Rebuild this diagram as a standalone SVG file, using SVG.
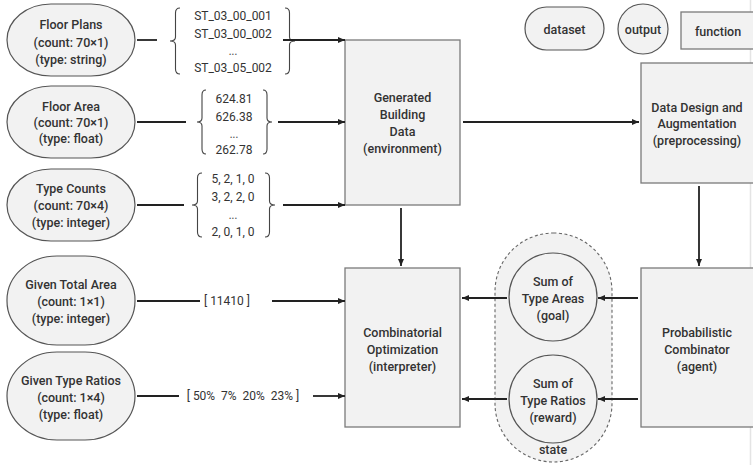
<svg xmlns="http://www.w3.org/2000/svg" width="753" height="465" viewBox="0 0 753 465">
<defs>
<marker id="ah" markerWidth="8" markerHeight="6" refX="7" refY="3" orient="auto" markerUnits="userSpaceOnUse">
<path d="M0,0 L7,3 L0,6 z" fill="#222"/>
</marker>
<style>
.ds{fill:#f2f2f2;stroke:#555;stroke-width:1.2}
.fn{fill:#f2f2f2;stroke:#7a7a7a;stroke-width:1.3}
.st{fill:#f2f2f2;stroke:#666;stroke-width:1.1;stroke-dasharray:3 2.5}
.t{font-family:Roboto,"Noto Sans",sans-serif;font-size:12.5px;font-weight:500;fill:#333;text-anchor:middle;dominant-baseline:central}
.v{font-family:Roboto,"Noto Sans",sans-serif;font-size:12px;fill:#333;text-anchor:middle;dominant-baseline:central}
.dots{font-family:Roboto,"Noto Sans",sans-serif;font-size:10px;font-weight:500;fill:#555;text-anchor:middle;dominant-baseline:central}
.c{stroke:#222;stroke-width:1.8;fill:none}
.a{stroke:#222;stroke-width:1.8;fill:none;marker-end:url(#ah)}
.br{stroke:#444;stroke-width:1.1;fill:none}
</style>
</defs>
<rect x="0" y="0" width="753" height="465" fill="#ffffff"/>
<line x1="750.5" y1="0" x2="750.5" y2="465" stroke="#e4e4e4" stroke-width="1.5"/>

<g id="legend-dataset">
<rect class="ds" x="525" y="7" width="79" height="43" rx="21.5" ry="21.5"/>
<text class="t" x="564.5" y="29">dataset</text>
</g>
<g id="legend-output">
<circle class="ds" cx="643" cy="29" r="25"/>
<text class="t" x="643" y="29">output</text>
</g>
<g id="legend-function">
<rect class="fn" x="681" y="12" width="90" height="37"/>
<text class="t" x="718" y="31">function</text>
</g>

<g id="state">
<rect class="st" x="495" y="233" width="117" height="229" rx="58.5" ry="58.5"/>
<text class="t" x="553" y="449">state</text>
</g>

<g id="floor-plans">
<rect class="ds" x="7" y="4" width="128" height="72" rx="44" ry="36"/>
<text class="t" x="71" y="24">Floor Plans</text>
<text class="t" x="71" y="42">(count: 70×1)</text>
<text class="t" x="71" y="59">(type: string)</text>
</g>
<g id="floor-area">
<rect class="ds" x="7" y="86" width="128" height="72" rx="44" ry="36"/>
<text class="t" x="71" y="106">Floor Area</text>
<text class="t" x="71" y="122">(count: 70×1)</text>
<text class="t" x="71" y="138">(type: float)</text>
</g>
<g id="type-counts">
<rect class="ds" x="7" y="169" width="128" height="72" rx="44" ry="36"/>
<text class="t" x="71" y="188">Type Counts</text>
<text class="t" x="71" y="205">(count: 70×4)</text>
<text class="t" x="71" y="222">(type: integer)</text>
</g>
<g id="given-total-area">
<rect class="ds" x="7" y="256" width="128" height="89" rx="50" ry="44"/>
<text class="t" x="71" y="284">Given Total Area</text>
<text class="t" x="71" y="301">(count: 1×1)</text>
<text class="t" x="71" y="318">(type: integer)</text>
</g>
<g id="given-type-ratios">
<rect class="ds" x="7" y="352" width="128" height="88" rx="50" ry="44"/>
<text class="t" x="71" y="380">Given Type Ratios</text>
<text class="t" x="71" y="397">(count: 1×4)</text>
<text class="t" x="71" y="414">(type: float)</text>
</g>

<g id="floor-plans-values">
<path class="br" d="M180,8 Q175.5,8 175.5,13 L175.5,37 Q175.5,41 170,41 Q175.5,41 175.5,45 L175.5,69 Q175.5,74 180,74"/>
<path class="br" d="M285,8 Q289.5,8 289.5,13 L289.5,37 Q289.5,41 295,41 Q289.5,41 289.5,45 L289.5,69 Q289.5,74 285,74"/>
<text class="v" x="233" y="16">ST_03_00_001</text>
<text class="v" x="233" y="34">ST_03_00_002</text>
<text class="dots" x="233" y="51">...</text>
<text class="v" x="233" y="68">ST_03_05_002</text>
</g>
<g id="floor-area-values">
<path class="br" d="M206,90 Q202,90 202,95 L202,118 Q202,122 197,122 Q202,122 202,126 L202,149 Q202,154 206,154"/>
<path class="br" d="M263,90 Q267,90 267,95 L267,118 Q267,122 272,122 Q267,122 267,126 L267,149 Q267,154 263,154"/>
<text class="v" x="234" y="99">624.81</text>
<text class="v" x="234" y="117">626.38</text>
<text class="dots" x="234" y="134">...</text>
<text class="v" x="234" y="150">262.78</text>
</g>
<g id="type-counts-values">
<path class="br" d="M202,173 Q197.5,173 197.5,178 L197.5,201 Q197.5,205 192,205 Q197.5,205 197.5,209 L197.5,232 Q197.5,237 202,237"/>
<path class="br" d="M265,173 Q269.5,173 269.5,178 L269.5,201 Q269.5,205 275,205 Q269.5,205 269.5,209 L269.5,232 Q269.5,237 265,237"/>
<text class="v" x="233" y="179">5, 2, 1, 0</text>
<text class="v" x="233" y="197">3, 2, 2, 0</text>
<text class="dots" x="233" y="215">...</text>
<text class="v" x="233" y="232">2, 0, 1, 0</text>
</g>
<g id="given-total-area-value">
<text class="v" x="227" y="301">[ 11410 ]</text>
</g>
<g id="given-type-ratios-value">
<text class="v" x="243" y="396" xml:space="preserve">[ 50%  7%  20%  23% ]</text>
</g>

<g id="generated-building-data">
<rect class="fn" x="345" y="40" width="115" height="165"/>
<text class="t" x="402.5" y="97">Generated</text>
<text class="t" x="402.5" y="114">Building</text>
<text class="t" x="402.5" y="131">Data</text>
<text class="t" x="402.5" y="148">(environment)</text>
</g>
<g id="combinatorial-optimization">
<rect class="fn" x="345" y="268" width="115" height="159"/>
<text class="t" x="402.5" y="332">Combinatorial</text>
<text class="t" x="402.5" y="349">Optimization</text>
<text class="t" x="402.5" y="366">(interpreter)</text>
</g>
<g id="data-design">
<rect class="fn" x="641" y="63" width="130" height="120"/>
<text class="t" x="697" y="107">Data Design and</text>
<text class="t" x="697" y="123">Augmentation</text>
<text class="t" x="697" y="140">(preprocessing)</text>
</g>
<g id="probabilistic-combinator">
<rect class="fn" x="641" y="268" width="130" height="159"/>
<text class="t" x="697" y="332">Probabilistic</text>
<text class="t" x="697" y="349">Combinator</text>
<text class="t" x="697" y="366">(agent)</text>
</g>
<g id="sum-type-areas">
<circle class="ds" cx="553" cy="297" r="44"/>
<text class="t" x="553" y="281">Sum of</text>
<text class="t" x="553" y="298">Type Areas</text>
<text class="t" x="553" y="315">(goal)</text>
</g>
<g id="sum-type-ratios">
<circle class="ds" cx="553" cy="399" r="44"/>
<text class="t" x="553" y="383">Sum of</text>
<text class="t" x="553" y="400">Type Ratios</text>
<text class="t" x="553" y="417">(reward)</text>
</g>

<g id="connectors">
<line class="c" x1="137" y1="40" x2="157" y2="40"/>
<line class="a" x1="283" y1="40" x2="345" y2="40"/>
<line class="c" x1="137" y1="122" x2="186" y2="122"/>
<line class="a" x1="278" y1="122" x2="345" y2="122"/>
<line class="c" x1="137" y1="205" x2="184" y2="205"/>
<line class="a" x1="283" y1="205" x2="345" y2="205"/>
<line class="c" x1="137" y1="301" x2="200" y2="301"/>
<line class="a" x1="272" y1="301" x2="345" y2="301"/>
<line class="c" x1="137" y1="396" x2="179" y2="396"/>
<line class="a" x1="313" y1="396" x2="345" y2="396"/>
<line class="a" x1="401" y1="208" x2="401" y2="266"/>
<line class="a" x1="463" y1="122" x2="639" y2="122"/>
<line class="a" x1="699" y1="186" x2="699" y2="266"/>
<line class="a" x1="638" y1="298" x2="598" y2="298"/>
<line class="a" x1="507" y1="298" x2="462" y2="298"/>
<line class="a" x1="638" y1="399" x2="598" y2="399"/>
<line class="a" x1="507" y1="399" x2="462" y2="399"/>
</g>
</svg>
